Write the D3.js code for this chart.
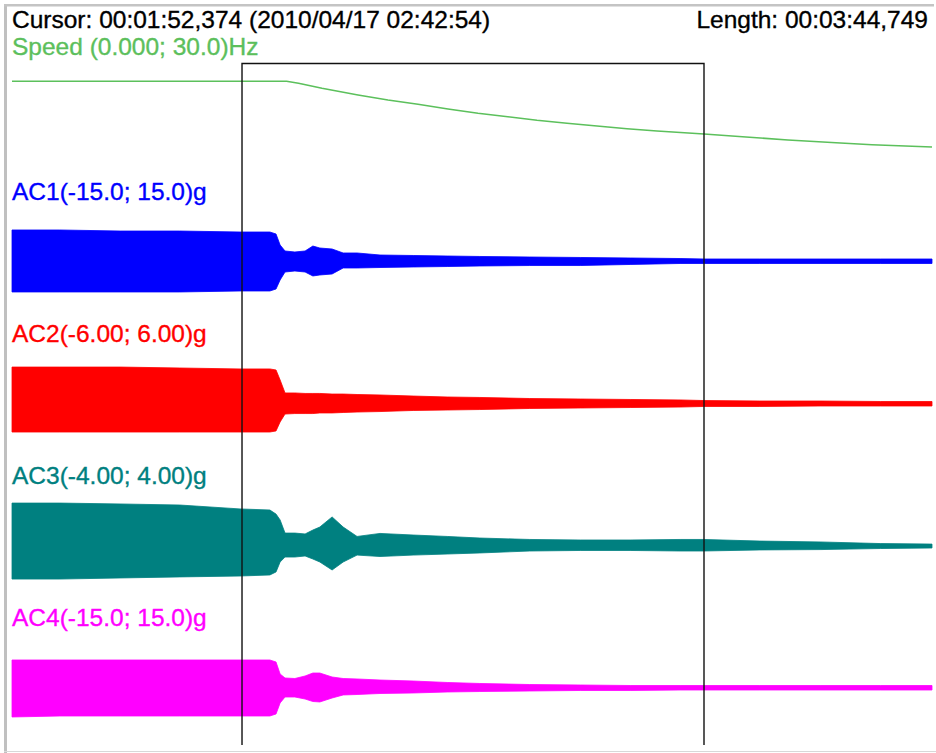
<!DOCTYPE html>
<html>
<head>
<meta charset="utf-8">
<script src="https://cdn.jsdelivr.net/npm/d3@7/dist/d3.min.js"></script>
<style>
  html, body { margin: 0; padding: 0; background: #fff; }
  svg { display: block; }
  text { font-family: "Liberation Sans", Arial, sans-serif; font-size: 24.5px; stroke-width: 0.35px; }
</style>
</head>
<body>
<svg id="chart" width="936" height="753"></svg>
<script>
// ---------- data ----------
const cursorText = "Cursor: 00:01:52,374 (2010/04/17 02:42:54)";
const lengthText = "Length: 00:03:44,749";
const totalLength = 224.749;          // seconds
const windowStart = 56.19;            // seconds (cursor window left)
const windowEnd = 169.05;             // seconds (cursor window right)

// speed channel (Hz), range 0..30
const speedName = "Speed (0.000; 30.0)Hz";
const speedRange = [0, 30];
const speedTimes = [0, 67.08, 69.99, 75.73, 84.53, 91.85, 99.18, 106.51, 113.84, 121.12, 128.25,
                    135.58, 142.91, 150.24, 157.57, 169.05, 179.31, 189.57, 201.30, 210.09, 224.749];
const speedValues = [22.33, 22.33, 21.91, 20.85, 19.44, 18.38, 17.47, 16.48, 15.57, 14.85, 14.09,
                     13.46, 12.89, 12.32, 11.83, 11.20, 10.56, 9.93, 9.36, 8.94, 8.45];

// acceleration channels: envelope (max / min) in g at these times (s)
const envTimes = [0, 11.7, 26.4, 41.0, 55.7, 63.0, 64.5, 65.5, 66.7, 69.1, 71.6, 73.5, 75.2, 78.2,
                  80.9, 84.3, 89.9, 98.0, 106.3, 114.3, 126.5, 138.8, 151.0, 163.2, 169.05,
                  182.7, 197.4, 212.1, 224.749];

const channelNames = ["AC1(-15.0; 15.0)g", "AC2(-6.00; 6.00)g", "AC3(-4.00; 4.00)g", "AC4(-15.0; 15.0)g"];
const channelRanges = [[-15, 15], [-6, 6], [-4, 4], [-15, 15]];
const channelColors = ["#0000ff", "#ff0000", "#008080", "#ff00ff"];

const ac1Max = [6.66, 6.66, 6.44, 6.44, 6.23, 6.23, 5.81, 3.49, 2.22, 2.01, 2.22, 3.27, 2.85, 2.64, 1.80,
                1.80, 1.37, 1.27, 1.16, 1.06, 0.95, 0.85, 0.74, 0.63, 0.53, 0.53, 0.53, 0.53, 0.53];
const ac1Min = [-6.44, -6.44, -6.44, -6.44, -6.23, -6.23, -5.81, -3.91, -2.22, -2.01, -2.22, -3.06, -2.85, -2.64, -1.37,
                -1.37, -1.27, -1.16, -1.06, -0.95, -0.85, -0.85, -0.63, -0.42, -0.42, -0.42, -0.42, -0.42, -0.42];

const ac2Max = [3.08, 3.08, 3.08, 3.00, 2.92, 2.92, 2.83, 1.99, 0.89, 0.89, 0.85, 0.85, 0.85, 0.80, 0.80,
                0.76, 0.72, 0.63, 0.55, 0.51, 0.42, 0.38, 0.34, 0.30, 0.25, 0.21, 0.21, 0.17, 0.17];
const ac2Min = [-2.41, -2.41, -2.41, -2.41, -2.41, -2.41, -2.32, -1.56, -0.89, -0.85, -0.85, -0.85, -0.80, -0.80, -0.76,
                -0.72, -0.68, -0.59, -0.55, -0.51, -0.42, -0.38, -0.34, -0.30, -0.25, -0.25, -0.21, -0.21, -0.21];

const ac3Max = [2.39, 2.39, 2.34, 2.28, 2.06, 2.00, 1.77, 1.44, 0.70, 0.70, 0.65, 0.87, 1.04, 1.61, 1.04,
                0.51, 0.68, 0.59, 0.51, 0.42, 0.34, 0.31, 0.31, 0.34, 0.34, 0.25, 0.20, 0.11, 0.08];
const ac3Min = [-1.89, -1.89, -1.83, -1.77, -1.72, -1.66, -1.49, -0.93, -0.65, -0.65, -0.59, -0.76, -0.93, -1.38, -0.93,
                -0.54, -0.62, -0.54, -0.48, -0.42, -0.31, -0.28, -0.28, -0.31, -0.31, -0.25, -0.23, -0.17, -0.14];

const ac4Max = [5.81, 5.81, 5.81, 5.81, 5.81, 5.81, 5.39, 2.85, 2.01, 1.90, 2.43, 3.06, 3.06, 2.22, 1.90,
                1.80, 1.58, 1.37, 1.06, 0.85, 0.63, 0.53, 0.42, 0.42, 0.42, 0.42, 0.42, 0.42, 0.42];
const ac4Min = [-6.23, -6.02, -6.02, -6.02, -6.02, -6.02, -5.60, -3.27, -2.01, -2.01, -2.43, -2.96, -3.06, -2.22, -1.58,
                -1.48, -1.27, -1.16, -0.95, -0.85, -0.74, -0.63, -0.63, -0.53, -0.53, -0.53, -0.53, -0.53, -0.53];

const channelMax = [ac1Max, ac2Max, ac3Max, ac4Max];
const channelMin = [ac1Min, ac2Min, ac3Min, ac4Min];

// ---------- layout ----------
const W = 936, H = 753;
const plotLeft = 12, plotRight = 932;
const halfBand = 71;
const speedCenter = 116;
const channelCenter0 = 261.5, channelStep = 142;
const labelOffset = 61.5;

const svg = d3.select("#chart");

const x = d3.scaleLinear().domain([0, totalLength]).range([plotLeft, plotRight]);

// speed
const ySpeed = d3.scaleLinear().domain(speedRange).range([speedCenter + halfBand, speedCenter - halfBand]);
const speedData = speedTimes.map((t, i) => ({ t, v: speedValues[i] }));
svg.append("path")
  .datum(speedData)
  .attr("fill", "none")
  .attr("stroke", "#5cc05c")
  .attr("stroke-width", 1.6)
  .attr("d", d3.line().x(d => x(d.t)).y(d => ySpeed(d.v)));

svg.append("text")
  .attr("x", plotLeft).attr("y", 54.5)
  .attr("fill", "#5cbf5c").attr("stroke", "#5cbf5c")
  .text(speedName);

// acceleration channels
channelNames.forEach((name, i) => {
  const c = channelCenter0 + i * channelStep;
  const y = d3.scaleLinear().domain(channelRanges[i]).range([c + halfBand, c - halfBand]);
  const data = envTimes.map((t, k) => ({ t, hi: channelMax[i][k], lo: channelMin[i][k] }));
  svg.append("path")
    .datum(data)
    .attr("fill", channelColors[i])
    .attr("stroke", channelColors[i])
    .attr("stroke-width", 0.8)
    .attr("d", d3.area().x(d => x(d.t)).y0(d => y(d.lo)).y1(d => y(d.hi)));
  svg.append("text")
    .attr("x", plotLeft).attr("y", c - labelOffset)
    .attr("fill", channelColors[i]).attr("stroke", channelColors[i])
    .text(name);
});

// header texts
svg.append("text").attr("x", plotLeft).attr("y", 28).attr("fill", "#000").attr("stroke", "#000").text(cursorText);
svg.append("text").attr("x", 928).attr("y", 28).attr("fill", "#000").attr("stroke", "#000")
  .attr("text-anchor", "end").text(lengthText);

// cursor window
const wTop = 63.5, wBottom = 745;
svg.append("path")
  .attr("fill", "none")
  .attr("stroke", "#111")
  .attr("stroke-width", 1.4)
  .attr("d", `M${x(windowStart)},${wBottom}V${wTop}H${x(windowEnd)}V${wBottom}`);

// frame
svg.append("rect").attr("x", 4).attr("y", 4).attr("width", 3).attr("height", H - 4).attr("fill", "#c0c0c0");
svg.append("rect").attr("x", 4).attr("y", 4).attr("width", W - 6).attr("height", 2.5).attr("fill", "#c4c4c4");
svg.append("rect").attr("x", 4).attr("y", 751).attr("width", W - 4).attr("height", 1).attr("fill", "#d8d8d8");
</script>
</body>
</html>
